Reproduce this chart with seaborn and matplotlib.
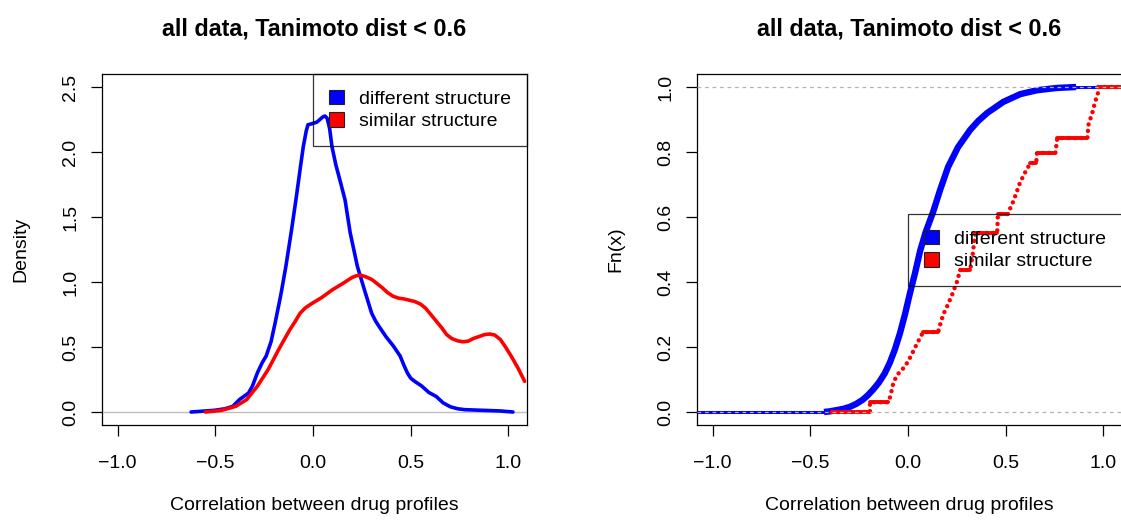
import numpy as np
import pandas as pd
import matplotlib
matplotlib.use("Agg")
import matplotlib.pyplot as plt
from matplotlib.patches import Patch
import seaborn as sns

# values
title = "all data, Tanimoto dist < 0.6"
xlabel = "Correlation between drug profiles"
groups = ["different structure", "similar structure"]
colors = ["blue", "red"]

# density curves (left panel)
dens_x_diff = [-0.624, -0.505, -0.45, -0.41, -0.377, -0.33, -0.31, -0.285, -0.26, -0.24,
               -0.215, -0.194, -0.165, -0.139, -0.11, -0.084, -0.065, -0.05, -0.035, -0.026,
               -0.012, 0.0, 0.02, 0.035, 0.05, 0.061, 0.072, 0.085, 0.097, 0.117,
               0.14, 0.164, 0.19, 0.227, 0.263, 0.30, 0.32, 0.337, 0.373, 0.41,
               0.446, 0.465, 0.483, 0.50, 0.52, 0.556, 0.593, 0.63, 0.666, 0.703,
               0.74, 0.776, 0.867, 0.959, 1.023]
dens_y_diff = [0.0, 0.013, 0.025, 0.044, 0.095, 0.146, 0.20, 0.30, 0.38, 0.43,
               0.54, 0.685, 0.90, 1.12, 1.40, 1.67, 1.88, 2.04, 2.16, 2.21,
               2.215, 2.22, 2.23, 2.25, 2.27, 2.277, 2.26, 2.18, 2.04, 1.90,
               1.77, 1.63, 1.38, 1.12, 0.94, 0.76, 0.70, 0.66, 0.58, 0.51,
               0.43, 0.36, 0.30, 0.26, 0.236, 0.20, 0.15, 0.12, 0.07, 0.04,
               0.025, 0.018, 0.013, 0.008, 0.0]
dens_x_sim = [-0.551, -0.468, -0.395, -0.34, -0.285, -0.23, -0.176, -0.12, -0.09, -0.066,
              -0.04, -0.011, 0.044, 0.099, 0.154, 0.2, 0.222, 0.245, 0.27, 0.30,
              0.33, 0.355, 0.38, 0.41, 0.44, 0.465, 0.52, 0.55, 0.575, 0.60,
              0.63, 0.66, 0.684, 0.71, 0.739, 0.767, 0.794, 0.82, 0.849, 0.877,
              0.904, 0.93, 0.959, 0.985, 1.014, 1.05, 1.083]
dens_y_sim = [0.0, 0.013, 0.044, 0.095, 0.198, 0.326, 0.48, 0.63, 0.70, 0.76,
              0.80, 0.83, 0.88, 0.94, 0.99, 1.035, 1.048, 1.052, 1.04, 1.02,
              0.985, 0.955, 0.92, 0.89, 0.875, 0.87, 0.85, 0.83, 0.80, 0.755,
              0.70, 0.645, 0.595, 0.565, 0.548, 0.54, 0.545, 0.565, 0.58, 0.595,
              0.60, 0.592, 0.557, 0.50, 0.43, 0.335, 0.236]

# empirical cdf (right panel)
ecdf_x_diff = [-0.43, -0.40, -0.364, -0.33, -0.297, -0.265, -0.231, -0.205, -0.18, -0.15,
               -0.12, -0.093, -0.067, -0.041, -0.015, 0.01, 0.036, 0.062, 0.09, 0.128,
               0.164, 0.205, 0.256, 0.318, 0.36, 0.405, 0.487, 0.574, 0.66, 0.76, 0.86]
ecdf_y_diff = [0.0, 0.002, 0.006, 0.01, 0.016, 0.025, 0.038, 0.052, 0.068, 0.09,
               0.118, 0.152, 0.193, 0.243, 0.302, 0.366, 0.428, 0.496, 0.553, 0.615,
               0.683, 0.754, 0.815, 0.868, 0.896, 0.92, 0.954, 0.978, 0.99, 0.997, 1.0]
ecdf_x_sim = [-0.39, -0.195, -0.195, -0.10, -0.09, -0.075, -0.055, -0.03, 0.0, 0.025,
              0.05, 0.077, 0.154, 0.165, 0.18, 0.20, 0.225, 0.25, 0.267, 0.318,
              0.33, 0.344, 0.456, 0.46, 0.51, 0.54, 0.574, 0.60, 0.626, 0.656,
              0.66, 0.754, 0.764, 0.918, 0.923, 0.944, 0.959, 0.974, 0.974, 1.2]
ecdf_y_sim = [0.0, 0.0, 0.03, 0.03, 0.05, 0.09, 0.115, 0.13, 0.155, 0.185,
              0.215, 0.246, 0.246, 0.27, 0.30, 0.325, 0.36, 0.40, 0.437, 0.437,
              0.48, 0.551, 0.551, 0.609, 0.609, 0.65, 0.707, 0.738, 0.766, 0.766,
              0.797, 0.797, 0.843, 0.843, 0.883, 0.923, 0.957, 0.985, 1.0, 1.0]

xticks = [-1.0, -0.5, 0.0, 0.5, 1.0]
xlim = (-1.08, 1.095)

sns.set_style("ticks")
plt.rcParams['font.family'] = ['Liberation Sans', 'DejaVu Sans']
plt.rcParams['font.size'] = 14
plt.rcParams['axes.edgecolor'] = 'black'
plt.rcParams['axes.linewidth'] = 0.9
for k in ('text.color', 'axes.labelcolor', 'xtick.color', 'ytick.color'):
    plt.rcParams[k] = 'black'

fig = plt.figure(figsize=(11.21, 5.2), dpi=100)
ax1 = fig.add_axes([102 / 1121, 95 / 520, 425 / 1121, 351 / 520])
ax2 = fig.add_axes([697 / 1121, 95 / 520, 425 / 1121, 351 / 520])

# left: densities
ax1.axhline(0, color='#bebebe', lw=1.0, zorder=1)
sns.lineplot(x=dens_x_diff, y=dens_y_diff, ax=ax1, color=colors[0], lw=2.6,
             sort=False, estimator=None)
sns.lineplot(x=dens_x_sim, y=dens_y_sim, ax=ax1, color=colors[1], lw=2.6,
             sort=False, estimator=None)
ax1.set_ylim(-0.1, 2.6)
ax1.set_yticks([0.0, 0.5, 1.0, 1.5, 2.0, 2.5])
ax1.set_ylabel("Density")

# right: ecdf
# thin flat tails of the blue ecdf out to the axis limits
tail = pd.DataFrame({'x': [xlim[0] - 0.1, ecdf_x_diff[0], ecdf_x_diff[-1], xlim[1] + 0.1],
                     'y': [ecdf_y_diff[0], ecdf_y_diff[0], ecdf_y_diff[-1], ecdf_y_diff[-1]],
                     'seg': [0, 0, 1, 1]})
sns.lineplot(data=tail, x='x', y='y', units='seg', estimator=None, sort=False,
             ax=ax2, color=colors[0], lw=2.2)
sns.lineplot(x=ecdf_x_diff, y=ecdf_y_diff, ax=ax2, color=colors[0], lw=4.6,
             sort=False, estimator=None, solid_capstyle='butt')

# red steps: dotted risers plus solid plateaus
sns.lineplot(x=ecdf_x_sim, y=ecdf_y_sim, ax=ax2, color=colors[1], lw=3.2,
             sort=False, estimator=None, linestyle=(0, (0.01, 1.45)),
             dash_capstyle='round')
rows = []
for i in range(len(ecdf_x_sim) - 1):
    if ecdf_y_sim[i] == ecdf_y_sim[i + 1]:
        rows.append((ecdf_x_sim[i], ecdf_y_sim[i], i))
        rows.append((ecdf_x_sim[i + 1], ecdf_y_sim[i + 1], i))
plat = pd.DataFrame(rows, columns=['x', 'y', 'seg'])
sns.lineplot(data=plat, x='x', y='y', units='seg', estimator=None, sort=False,
             ax=ax2, color=colors[1], lw=2.8)

for yv in (0, 1):
    ax2.axhline(yv, color='#b3b3b3', lw=0.9, ls=(0, (3, 3)), zorder=5)
ax2.set_ylim(-0.04, 1.04)
ax2.set_yticks([0.0, 0.2, 0.4, 0.6, 0.8, 1.0])
ax2.set_ylabel("Fn(x)")

handles = [Patch(facecolor=c, edgecolor='#222222', lw=0.8, label=g)
           for c, g in zip(colors, groups)]
legend_at = [(ax1, 2.6), (ax2, 0.609)]

for ax, ly in legend_at:
    ax.set_xlim(*xlim)
    ax.set_xticks(xticks)
    ax.set_xticklabels([f"{t:.1f}".replace("-", "\u2212") for t in xticks])
    ax.set_yticklabels([f"{t:.1f}" for t in ax.get_yticks()])
    ax.tick_params(direction='out', length=8, width=0.9, color='black',
                   labelsize=14, bottom=True, left=True)
    ax.tick_params(axis='x', pad=13.5)
    ax.tick_params(axis='y', pad=8.5, labelrotation=90)
    plt.setp(ax.get_yticklabels(), va='center')
    for s in ax.spines.values():
        s.set_visible(True)
        s.set_color('black')
    ax.set_title(title, fontsize=16.8, fontweight='bold', pad=28)
    ax.set_xlabel(xlabel, fontsize=14)
    ax.xaxis.set_label_coords(0.5, -0.204)
    ax.yaxis.set_label_coords(-0.172, 0.5)
    ax.yaxis.label.set_size(14)
    leg = ax.legend(handles=handles, loc='upper left', bbox_to_anchor=(0.0, ly),
                    bbox_transform=ax.transData, frameon=True, fancybox=False,
                    edgecolor='black', facecolor='none', framealpha=None,
                    borderaxespad=0, borderpad=0.8, handlelength=0.78,
                    handleheight=0.78, handletextpad=0.8, labelspacing=0.23,
                    fontsize=14)
    leg.get_frame().set_linewidth(0.9)

fig.savefig("out.png", dpi=100)
